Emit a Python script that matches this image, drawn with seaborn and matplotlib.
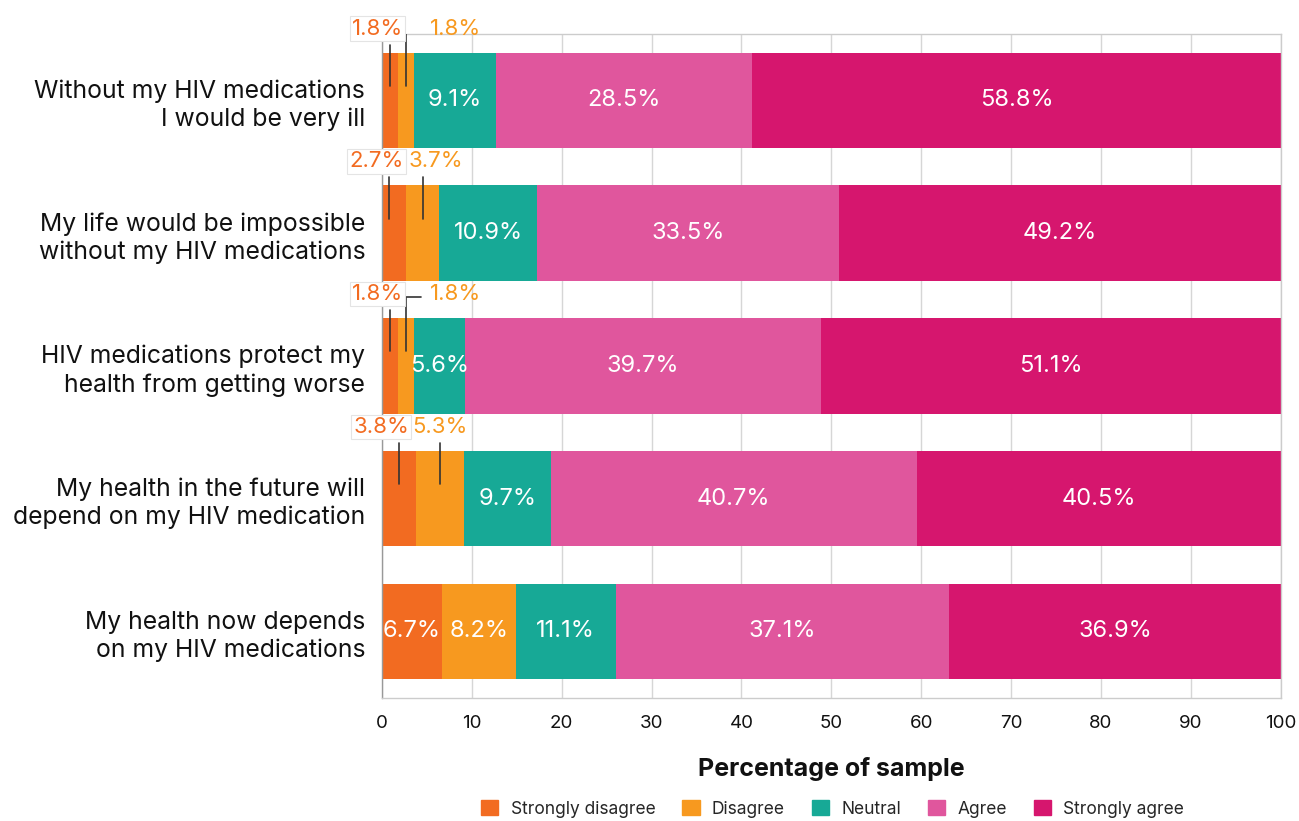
import matplotlib
matplotlib.use("Agg")
import matplotlib.pyplot as plt
import seaborn as sns
import numpy as np
import pandas as pd
from matplotlib.patches import Patch

categories = [
    "Without my HIV medications\nI would be very ill",
    "My life would be impossible\nwithout my HIV medications",
    "HIV medications protect my\nhealth from getting worse",
    "My health in the future will\ndepend on my HIV medication",
    "My health now depends\non my HIV medications",
]
responses = ["Strongly disagree", "Disagree", "Neutral", "Agree", "Strongly agree"]
strongly_disagree = [1.8, 2.7, 1.8, 3.8, 6.7]
disagree = [1.8, 3.7, 1.8, 5.3, 8.2]
neutral = [9.1, 10.9, 5.6, 9.7, 11.1]
agree = [28.5, 33.5, 39.7, 40.7, 37.1]
strongly_agree = [58.8, 49.2, 51.1, 40.5, 36.9]
colors = ["#F26B21", "#F7991F", "#17A996", "#E0569D", "#D6166E"]
x_ticks = [0, 10, 20, 30, 40, 50, 60, 70, 80, 90, 100]

sns.set_theme(style="white")
plt.rcParams["font.family"] = ["Inter", "DejaVu Sans"]

values = np.array([strongly_disagree, disagree, neutral, agree, strongly_agree])
cum = np.cumsum(values, axis=0)

fig = plt.figure(figsize=(12.99, 8.21), dpi=100)
ax = fig.add_axes([0.294, 0.150, 0.692, 0.8086])

for k in range(len(responses) - 1, -1, -1):
    df = pd.DataFrame({"cat": categories, "val": cum[k]})
    sns.barplot(data=df, x="val", y="cat", color=colors[k], orient="h",
                width=0.72, saturation=1, ax=ax, zorder=2, linewidth=0)

ax.set_xlim(0, 100)
ax.set_ylim(4.5, -0.5)
ax.set_xticks(x_ticks)
ax.xaxis.grid(True, color="#d6d6d6", linewidth=1, zorder=0)
ax.set_axisbelow(True)
for s in ax.spines.values():
    s.set_color("#cccccc")
    s.set_linewidth(1)
ax.spines["left"].set_color("#999999")
ax.tick_params(axis="both", length=0)
ax.tick_params(axis="x", labelsize=13.5, pad=12, colors="#111111")
ax.tick_params(axis="y", labelsize=17.8, pad=12, colors="#111111")
for t in ax.get_yticklabels():
    t.set_horizontalalignment("right")
    t.set_linespacing(1.25)
ax.set_ylabel("")
ax.set_xlabel("Percentage of sample", fontsize=18, fontweight="bold",
              labelpad=18, color="#111111")

FS = 17
FS_OUT = 16
# labels
for i in range(len(categories)):
    for k in range(len(responses)):
        v = values[k, i]
        left = cum[k, i] - v
        center = left + v / 2
        outside = k < 2 and v < 6
        if not outside:
            ax.text(center, i, f"{v:.1f}%", ha="center", va="center",
                    color="white", fontsize=FS, zorder=5)

    # outside labels for small leading segments
    if values[0, i] < 6 and values[1, i] < 6:
        c0 = values[0, i] / 2
        c1 = values[0, i] + values[1, i] / 2
        ty = i - 0.54
        if values[1, i] < 2.5:
            ax.plot([c0, c0], [i - 0.11, i - 0.42], color="#333333", lw=1.2, zorder=6)
            ax.text(-0.5, ty, f"{values[0, i]:.1f}%", ha="center", va="center",
                    color=colors[0], fontsize=FS_OUT, zorder=7,
                    bbox=dict(boxstyle="square,pad=0.1", fc="white", ec="#e4e4e4", lw=0.8))
            ax.plot([c1, c1, c1 + 1.6], [i - 0.11, ty + 0.02, ty + 0.02],
                    color="#333333", lw=1.2, zorder=6)
            ax.text(c1 + 2.6, ty, f"{values[1, i]:.1f}%", ha="left", va="center",
                    color=colors[1], fontsize=FS_OUT, zorder=7)
        else:
            x0 = -0.6 if values[0, i] < 3 else -0.1
            cl = min(c0, 0.8) if values[0, i] < 3 else c0
            ax.plot([cl, cl], [i - 0.11, i - 0.42], color="#333333", lw=1.2, zorder=6)
            ax.text(x0, ty, f"{values[0, i]:.1f}%", ha="center", va="center",
                    color=colors[0], fontsize=FS_OUT, zorder=7,
                    bbox=dict(boxstyle="square,pad=0.1", fc="white", ec="#e4e4e4", lw=0.8))
            ax.plot([c1, c1], [i - 0.11, i - 0.42], color="#333333", lw=1.2, zorder=6)
            ax.text(c1 + (1.4 if values[1, i] < 5 else 0.0), ty, f"{values[1, i]:.1f}%",
                    ha="center", va="center", color=colors[1], fontsize=FS_OUT, zorder=7)

handles = [Patch(facecolor=c, edgecolor=c, label=r) for c, r in zip(colors, responses)]
fig.legend(handles=handles, loc="center", bbox_to_anchor=(0.641, 0.015), ncol=5,
           frameon=False, fontsize=12.5, handlelength=1.0, handleheight=1.0,
           columnspacing=1.55, handletextpad=0.7)

fig.savefig("out.png", dpi=100)
